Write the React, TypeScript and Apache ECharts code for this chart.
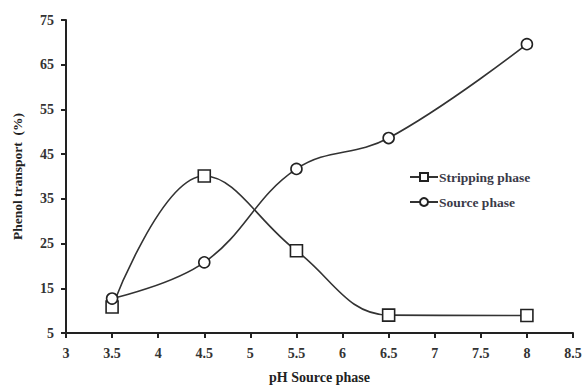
import React, { useEffect, useRef } from "react";
import * as echarts from "echarts";

const phValues = [3.5, 4.5, 5.5, 6.5, 8];
const strippingPhase = [10.8, 40.1, 23.4, 9.0, 8.9];
const sourcePhase = [12.7, 20.8, 41.7, 48.6, 69.6];
const seriesNames = ["Stripping phase", "Source phase"];

const FONT = "'Liberation Serif', 'DejaVu Serif', serif";

export default function App() {
  const ref = useRef<HTMLDivElement>(null);
  useEffect(() => {
    document.body.style.margin = "0";
    document.body.style.overflow = "hidden";
    if (!ref.current) return;
    const chart = echarts.init(ref.current, null, { renderer: "svg" });
    const toPairs = (ys: number[]) => phValues.map((x, i) => [x, ys[i]]);
    chart.setOption({
      animation: false,
      backgroundColor: "#ffffff",
      grid: { left: 66, right: 14, top: 20, bottom: 58, containLabel: false, outerBoundsMode: "none" },
      legend: {
        orient: "vertical",
        left: 409,
        top: 170,
        padding: 0,
        itemWidth: 28,
        itemHeight: 10,
        itemGap: 11,
        data: seriesNames,
        textStyle: {
          fontFamily: FONT,
          fontSize: 13.5,
          lineHeight: 14,
          fontWeight: "bold",
          color: "#3a3a48",
          padding: [0, 0, 0, -4],
        },
      },
      xAxis: {
        type: "value",
        min: 3,
        max: 8.5,
        interval: 0.5,
        name: "pH Source phase",
        nameLocation: "middle",
        nameGap: 37,
        nameTextStyle: { fontFamily: FONT, fontSize: 14, fontWeight: "bold", color: "#222" },
        axisLine: { show: true, lineStyle: { color: "#222", width: 2 } },
        axisTick: { show: true, inside: false, length: 5, lineStyle: { color: "#222", width: 2 } },
        axisLabel: { fontFamily: FONT, fontSize: 14, fontWeight: "bold", color: "#333", margin: 13 },
        splitLine: { show: false },
      },
      yAxis: {
        type: "value",
        min: 5,
        max: 75,
        interval: 10,
        name: "Phenol transport  (%)",
        nameLocation: "middle",
        nameGap: 42,
        nameTextStyle: { fontFamily: FONT, fontSize: 13.5, fontWeight: "bold", color: "#222" },
        axisLine: { show: true, lineStyle: { color: "#222", width: 2 } },
        axisTick: { show: true, inside: false, length: 5, lineStyle: { color: "#222", width: 2 } },
        axisLabel: { fontFamily: FONT, fontSize: 14, fontWeight: "bold", color: "#333", margin: 12 },
        splitLine: { show: false },
      },
      series: [
        {
          name: seriesNames[0],
          type: "line",
          data: toPairs(strippingPhase),
          smooth: 0.4,
          symbol: "rect",
          symbolSize: 12,
          lineStyle: { color: "#333", width: 1.6 },
          itemStyle: { color: "#ffffff", borderColor: "#222", borderWidth: 1.6 },
        },
        {
          name: seriesNames[1],
          type: "line",
          data: toPairs(sourcePhase),
          smooth: 0.4,
          symbol: "circle",
          symbolSize: 11,
          lineStyle: { color: "#333", width: 1.6 },
          itemStyle: { color: "#ffffff", borderColor: "#222", borderWidth: 1.6 },
        },
      ],
    });
    return () => chart.dispose();
  }, []);
  return <div ref={ref} style={{ width: 587, height: 391 }} />;
}
